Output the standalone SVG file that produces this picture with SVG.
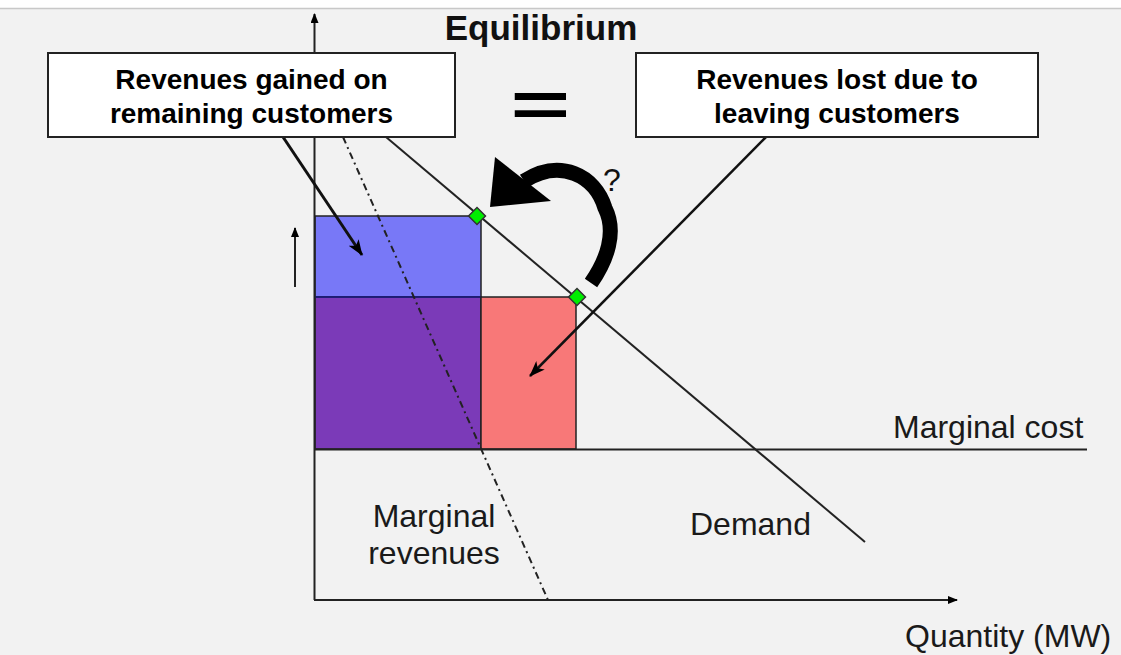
<svg xmlns="http://www.w3.org/2000/svg" width="1121" height="655" viewBox="0 0 1121 655">
<defs>
<style>
.lbl{font-family:"Liberation Sans",Arial,sans-serif;font-size:32px;fill:#1a1a1a}
.bx{font-family:"Liberation Sans",Arial,sans-serif;font-size:28px;font-weight:bold;fill:#000;text-anchor:middle}
.box{fill:#fff;stroke:#222;stroke-width:2}
.ln{stroke:#222;stroke-width:2;fill:none}
.dia{fill:#00ee00;stroke:#333;stroke-width:1.5}
</style>
<marker id="ah" markerWidth="10" markerHeight="8" refX="9" refY="4" orient="auto" markerUnits="userSpaceOnUse" viewBox="0 0 10 8">
<path d="M0,0 L10,4 L0,8 Z" fill="#000"/>
</marker>
<marker id="ah2" markerWidth="16" markerHeight="12" refX="15" refY="6" orient="auto" markerUnits="userSpaceOnUse" viewBox="0 0 16 12">
<path d="M0,0 L16,6 L0,12 L4,6 Z" fill="#000"/>
</marker>
</defs>
<rect x="0" y="0" width="1121" height="655" fill="#f2f2f2"/>
<rect x="0" y="0" width="1121" height="8" fill="#fff"/>
<line x1="0" y1="8.5" x2="1121" y2="8.5" stroke="#c8c8c8" stroke-width="1.5"/>

<g id="areas">
<rect id="gained" x="315" y="216" width="166" height="81" fill="#7878f7" stroke="#222" stroke-width="1.5"/>
<rect id="base" x="315" y="297" width="166" height="152" fill="#7b3ab8" stroke="#222" stroke-width="1.5"/>
<line x1="315" y1="297" x2="481" y2="297" stroke="#1a1a8a" stroke-width="1.5"/>
<rect id="lost" x="481" y="297" width="95" height="152" fill="#f87878" stroke="#222" stroke-width="1.5"/>
</g>

<g id="connectors">
<line class="ln" x1="314.5" y1="600" x2="314.5" y2="14" marker-end="url(#ah)"/>
<line class="ln" x1="314" y1="600" x2="957" y2="600" marker-end="url(#ah)"/>
<line class="ln" x1="314" y1="449.5" x2="1087" y2="449.5"/>
<line class="ln" x1="386" y1="137" x2="865" y2="542"/>
<line x1="343" y1="137" x2="548" y2="600" stroke="#222" stroke-width="2" stroke-dasharray="7,4,2,4"/>
<line class="ln" x1="295" y1="287" x2="295" y2="228" marker-end="url(#ah)"/>
<line x1="283" y1="137" x2="362" y2="255" stroke="#111" stroke-width="3" marker-end="url(#ah2)"/>
<line x1="766" y1="137" x2="530" y2="376" stroke="#111" stroke-width="2.5" marker-end="url(#ah2)"/>
<path d="M591,283 C607,260 617,232 605,208 C595,175 560,158 524,181" fill="none" stroke="#000" stroke-width="15"/>
<polygon points="490,207 495,157 551,201" fill="#000"/>
</g>

<g id="points">
<rect class="dia" x="-6" y="-6" width="12" height="12" transform="translate(477,216) rotate(45)"/>
<rect class="dia" x="-6" y="-6" width="12" height="12" transform="translate(577,297) rotate(45)"/>
</g>

<g id="title">
<text x="541" y="40" font-family="'Liberation Sans',Arial,sans-serif" font-size="35" font-weight="bold" text-anchor="middle" fill="#111">Equilibrium</text>
</g>

<g id="box-gained">
<rect class="box" x="48" y="53" width="407" height="84"/>
<text class="bx" x="251.5" y="89">Revenues gained on</text>
<text class="bx" x="251.5" y="123">remaining customers</text>
</g>

<g id="equals">
<text x="0" y="0" transform="translate(540.5,126) scale(1.65,1)" font-family="'Liberation Sans',Arial,sans-serif" font-size="62" font-weight="bold" text-anchor="middle" fill="#000">=</text>
</g>

<g id="box-lost">
<rect class="box" x="636" y="53" width="402" height="84"/>
<text class="bx" x="837" y="89">Revenues lost due to</text>
<text class="bx" x="837" y="123">leaving customers</text>
</g>

<g id="question">
<text x="612" y="191" font-family="'Liberation Sans',Arial,sans-serif" font-size="32" text-anchor="middle" fill="#111">?</text>
</g>

<g id="labels">
<text class="lbl" x="893" y="438">Marginal cost</text>
<text class="lbl" x="690" y="535">Demand</text>
<text class="lbl" x="434" y="527" text-anchor="middle">Marginal</text>
<text class="lbl" x="434" y="564" text-anchor="middle">revenues</text>
<text class="lbl" x="905" y="647">Quantity (MW)</text>
</g>
</svg>
